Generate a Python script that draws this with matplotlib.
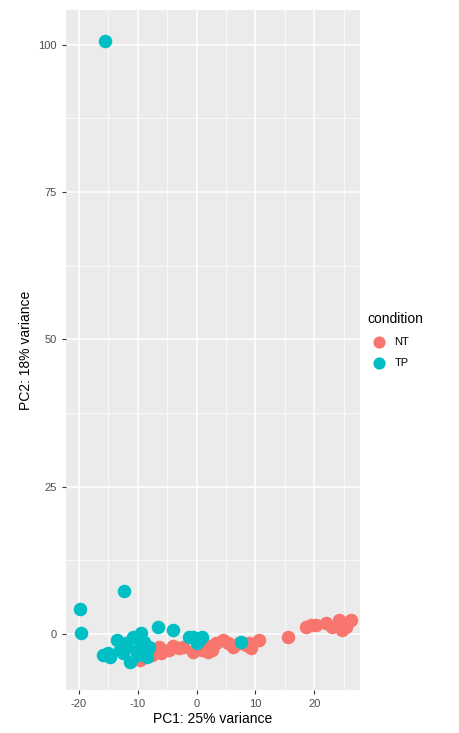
import numpy as np
import matplotlib.pyplot as plt
from matplotlib.ticker import MultipleLocator

plt.rcParams['font.family'] = ['Liberation Sans', 'DejaVu Sans']
plt.rcParams['axes.unicode_minus'] = False

# PCA scores
nt_pc1 = [-9.7, -6.3, -6.0, -4.6, -2.9, -0.6, 1.0, 2.7, -2.3, -0.3, 1.6, 3.3,
          5.3, 8.4, 9.3, 10.7, 15.5, 18.6, 19.5, 20.3, 22.0, 23.1, 24.2, 25.4,
          26.2, 24.8, 0.5, 4.5, 7.3, 9.0, -7.5, -4.0, 6.2, 2.0]
nt_pc2 = [-4.4, -2.2, -3.3, -2.7, -2.4, -3.0, -2.7, -2.7, -2.2, -2.7, -1.9, -1.6,
          -1.6, -1.9, -2.4, -1.0, -0.5, 1.2, 1.5, 1.5, 1.8, 1.2, 2.4, 1.2,
          2.4, 0.7, -2.2, -1.0, -1.6, -1.6, -3.5, -2.0, -2.2, -3.1]

tp_pc1 = [-15.6, -19.8, -19.6, -12.3, -6.6, -4.0, -15.9, -14.7, -13.6, -12.5,
          -11.4, -10.8, -9.4, -9.7, -8.5, -8.0, -1.2, 0.0, 1.0, -13.0, -11.9,
          -0.6, 0.5, 7.6, -15.0, -10.2, -12.0, -9.0]
tp_pc2 = [100.6, 4.2, 0.2, 7.3, 1.2, 0.7, -3.6, -3.9, -1.0, -3.3,
          -4.7, -0.5, 0.1, -2.2, -3.9, -2.2, -0.5, -1.6, -0.5, -2.7, -2.2,
          -0.5, -1.0, -1.3, -3.2, -3.6, -1.5, -1.4]

fig = plt.figure(figsize=(4.59, 7.33), dpi=100)
ax = fig.add_axes([0.1438, 0.0587, 0.6405, 0.9277])
ax.set_facecolor('#EBEBEB')

ax.scatter(nt_pc1, nt_pc2, s=95, color='#F8766D', label='NT', zorder=3, linewidths=0)
ax.scatter(tp_pc1, tp_pc2, s=95, color='#00BFC4', label='TP', zorder=3, linewidths=0)

ax.set_xlim(-22.2, 27.8)
ax.set_ylim(-9.5, 105.9)
ax.xaxis.set_major_locator(MultipleLocator(10))
ax.xaxis.set_minor_locator(MultipleLocator(5))
ax.yaxis.set_major_locator(MultipleLocator(25))
ax.yaxis.set_minor_locator(MultipleLocator(12.5))
ax.grid(True, which='major', color='white', linewidth=1.1)
ax.grid(True, which='minor', color='white', linewidth=0.5)
ax.set_axisbelow(True)
for sp in ax.spines.values():
    sp.set_visible(False)
ax.tick_params(which='major', length=3, color='#333333', labelsize=8, labelcolor='#4D4D4D')
ax.tick_params(which='minor', length=0)

ax.set_xlabel('PC1: 25% variance', fontsize=10, labelpad=2)
ax.set_ylabel('PC2: 18% variance', fontsize=10, labelpad=4)

leg = ax.legend(title='condition', loc='center left', bbox_to_anchor=(1.0, 0.515),
                frameon=False, fontsize=8, title_fontsize=10, handletextpad=0.4,
                labelspacing=1.0, markerscale=0.9, borderaxespad=0.3)
leg._legend_box.align = 'left'

fig.savefig('out.png', dpi=100)
